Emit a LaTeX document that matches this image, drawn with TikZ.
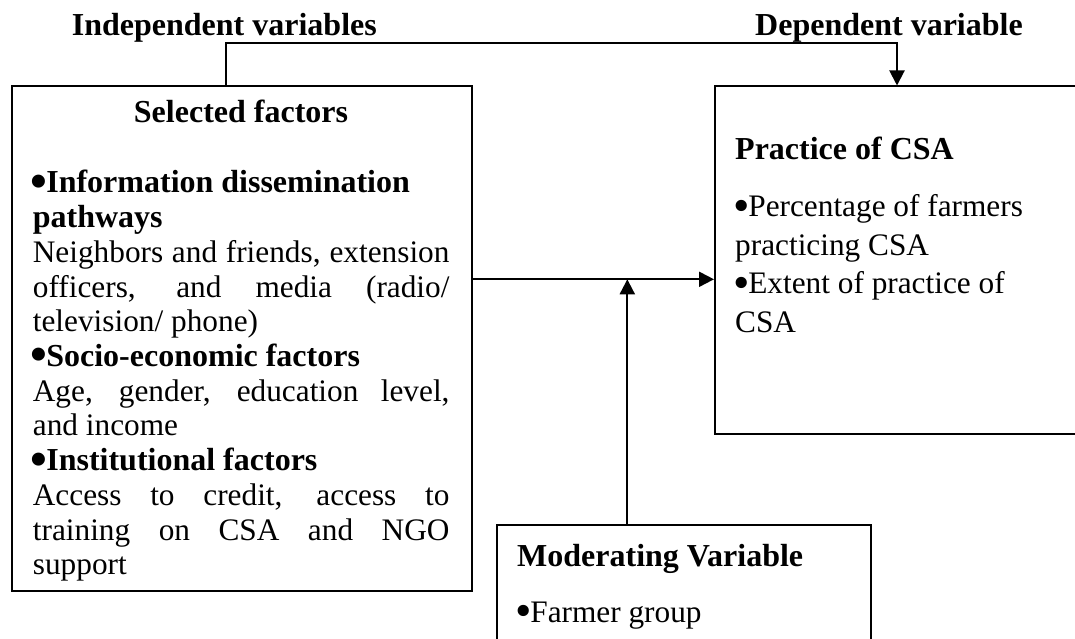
\documentclass[tikz,border=0pt]{standalone}
\usepackage{fontspec}
\setmainfont{Liberation Serif}
\usetikzlibrary{arrows.meta}
\newcommand\regsize{\fontsize{31.3}{34.7}\selectfont}
\newcommand\hd[1]{{\fontsize{32}{34.7}\selectfont\bfseries #1}}
\newcommand\jline[1]{\makebox[\linewidth][s]{#1}}
\newcommand\bul{\makebox[0.42em][l]{\hspace*{-0.06em}\raisebox{-0.14em}{\scalebox{1.5}{•}}}}
\begin{document}
\begin{tikzpicture}[x=1pt,y=-1pt,
  box/.style={draw, line width=2pt, anchor=north west, inner sep=0pt},
  txt/.style={inner sep=0pt, anchor=base west},
  conn/.style={line width=2pt, -{Triangle[length=15pt,width=15pt]}}]
\useasboundingbox (0,0) rectangle (1075,639);
\clip (0,0) rectangle (1075,639);
% boxes
\node[box, minimum width=460pt, minimum height=504.5pt] (sel) at (11,85) {};
\node[box, minimum width=420pt, minimum height=347.5pt] (csa) at (714,85.5) {};
\node[box, minimum width=374pt, minimum height=160pt] (mod) at (496,524) {};
% top labels
\node[txt] (indep) at (71.7,35.5) {\hd{Independent variables}};
\node[txt] (dep) at (755,36) {\hd{Dependent variable}};
% left box text
\node[inner sep=0pt, anchor=base] (seltitle) at (241,123) {\hd{Selected factors}};
\node[txt] (selbody) at (32.7,193) {\parbox[t]{416.6pt}{\regsize
\hd{\bul Information dissemination}\\
\hd{pathways}\\
\jline{Neighbors and friends, extension}\\
\jline{officers, and media (radio/}\\
television/ phone)\\
\hd{\bul Socio-economic factors}\\
\jline{Age, gender, education level,}\\
and income\\
\hd{\bul Institutional factors}\\
\jline{Access to credit, access to}\\
\jline{training on CSA and NGO}\\
support}};
% right box text
\node[txt] (csatitle) at (735,160) {\hd{Practice of CSA}};
\node[txt] (csabody) at (735,216.7) {\parbox[t]{330pt}{\fontsize{31.3}{38.5}\selectfont
\bul Percentage of farmers\\
practicing CSA\\
\bul Extent of practice of\\
CSA}};
% moderating box text
\node[txt] (modtitle) at (517,566) {\hd{Moderating Variable}};
\node[txt] (modbody) at (517,622) {\regsize \bul Farmer group};
% connectors
\coordinate (topL) at (226,43.5);
\coordinate (topR) at (897,43.5);
\coordinate (mid) at (627.3,279.3);
\draw[conn] (sel.north -| topL) -- (topL) -- (topR) -- (csa.north -| topR);
\draw[conn] (sel.east |- mid) -- (csa.west |- mid);
\draw[conn] (mod.north -| mid) -- (mid);
\end{tikzpicture}
\end{document}
